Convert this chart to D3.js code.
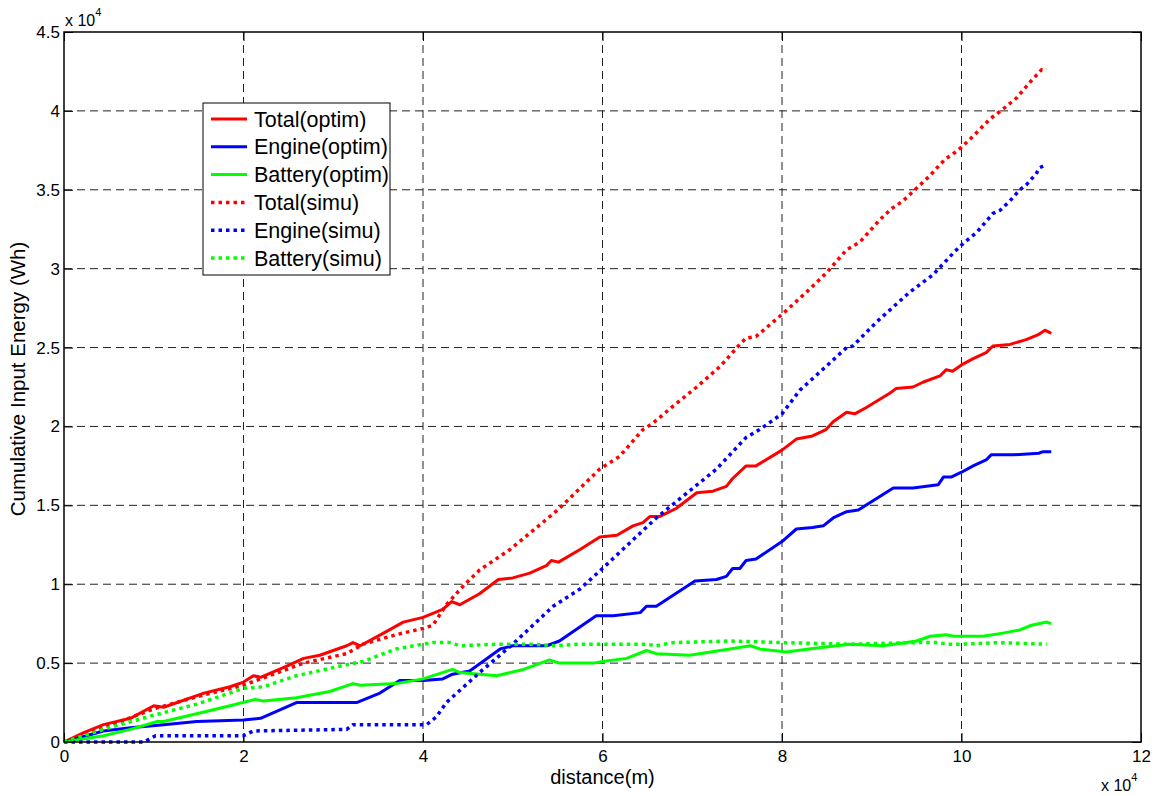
<!DOCTYPE html>
<html>
<head>
<meta charset="utf-8">
<script src="https://cdn.jsdelivr.net/npm/d3@7"></script>
<style>
  body { margin: 0; background: #fff; }
  text { font-family: "Liberation Sans", Arial, Helvetica, sans-serif; fill: #000; }
</style>
</head>
<body>
<div id="chart"></div>
<script>
// values in units of 10^4 (distance in m, energy in Wh), as the axes show them
var xTicks = [0, 2, 4, 6, 8, 10, 12];
var yTicks = [0, 0.5, 1, 1.5, 2, 2.5, 3, 3.5, 4, 4.5];

var totalOptim = [[0,0],[0.22,0.06],[0.44,0.11],[0.74,0.15],[1.0,0.23],[1.11,0.22],[1.56,0.31],[1.85,0.35],[2.0,0.38],[2.11,0.42],[2.19,0.41],[2.52,0.49],[2.67,0.53],[2.85,0.55],[3.15,0.61],[3.22,0.63],[3.30,0.61],[3.56,0.69],[3.78,0.76],[4.0,0.79],[4.22,0.84],[4.32,0.89],[4.41,0.87],[4.63,0.94],[4.84,1.03],[5.0,1.04],[5.19,1.07],[5.38,1.12],[5.43,1.15],[5.51,1.14],[5.75,1.22],[5.97,1.30],[6.16,1.31],[6.34,1.37],[6.45,1.39],[6.53,1.43],[6.64,1.43],[6.82,1.48],[7.05,1.58],[7.23,1.59],[7.38,1.62],[7.45,1.67],[7.60,1.75],[7.71,1.75],[8.0,1.85],[8.16,1.92],[8.34,1.94],[8.49,1.98],[8.57,2.03],[8.72,2.09],[8.81,2.08],[8.94,2.12],[9.20,2.21],[9.27,2.24],[9.46,2.25],[9.57,2.28],[9.76,2.32],[9.83,2.36],[9.90,2.35],[10.0,2.39],[10.13,2.43],[10.28,2.47],[10.35,2.51],[10.54,2.52],[10.72,2.55],[10.85,2.58],[10.93,2.61],[11.0,2.59]];
var engineOptim = [[0,0],[0.44,0.07],[0.74,0.09],[1.11,0.11],[1.48,0.13],[2.0,0.14],[2.19,0.15],[2.59,0.25],[3.26,0.25],[3.52,0.31],[3.74,0.39],[4.0,0.39],[4.22,0.40],[4.33,0.43],[4.52,0.45],[4.86,0.59],[5.0,0.61],[5.38,0.61],[5.52,0.64],[5.93,0.80],[6.12,0.80],[6.42,0.82],[6.49,0.86],[6.60,0.86],[7.03,1.02],[7.27,1.03],[7.38,1.05],[7.45,1.10],[7.53,1.10],[7.60,1.15],[7.71,1.16],[8.0,1.27],[8.16,1.35],[8.34,1.36],[8.46,1.37],[8.57,1.42],[8.72,1.46],[8.85,1.47],[9.24,1.61],[9.46,1.61],[9.74,1.63],[9.80,1.68],[9.89,1.68],[10.0,1.71],[10.13,1.75],[10.28,1.79],[10.33,1.82],[10.58,1.82],[10.86,1.83],[10.91,1.84],[11.0,1.84]];
var batteryOptim = [[0,0],[0.44,0.04],[0.74,0.08],[1.04,0.13],[1.11,0.13],[1.56,0.19],[1.85,0.23],[2.13,0.27],[2.22,0.26],[2.59,0.28],[2.96,0.32],[3.22,0.37],[3.30,0.36],[3.70,0.37],[4.0,0.40],[4.33,0.46],[4.41,0.44],[4.63,0.43],[4.82,0.42],[5.12,0.46],[5.41,0.52],[5.52,0.50],[5.90,0.50],[6.0,0.51],[6.27,0.53],[6.49,0.58],[6.60,0.56],[6.97,0.55],[7.42,0.59],[7.65,0.61],[7.75,0.59],[8.05,0.57],[8.3,0.59],[8.75,0.62],[9.13,0.61],[9.50,0.64],[9.65,0.67],[9.83,0.68],[9.91,0.67],[10.24,0.67],[10.46,0.69],[10.65,0.71],[10.78,0.74],[10.95,0.76],[11.0,0.75]];
var totalSimu = [[0,0],[0.44,0.09],[1.0,0.21],[1.5,0.29],[2.0,0.36],[2.67,0.50],[3.15,0.56],[3.33,0.62],[3.70,0.68],[4.0,0.72],[4.11,0.74],[4.26,0.87],[4.45,0.99],[4.63,1.09],[4.97,1.22],[5.5,1.47],[5.97,1.73],[6.19,1.81],[6.45,1.98],[6.56,2.02],[6.79,2.13],[7.05,2.25],[7.31,2.38],[7.53,2.52],[7.60,2.56],[7.71,2.57],[8.0,2.71],[8.27,2.85],[8.49,2.97],[8.72,3.12],[8.87,3.17],[9.09,3.31],[9.22,3.38],[9.35,3.43],[9.48,3.50],[9.65,3.59],[9.76,3.66],[9.83,3.70],[9.89,3.72],[10.0,3.77],[10.13,3.84],[10.32,3.95],[10.46,4.01],[10.61,4.08],[10.76,4.18],[10.89,4.26],[10.95,4.26]];
var engineSimu = [[0,0],[0.89,0],[1.02,0.04],[2.0,0.04],[2.11,0.07],[3.15,0.08],[3.22,0.11],[4.04,0.11],[4.15,0.16],[4.26,0.25],[4.63,0.44],[5.0,0.62],[5.30,0.78],[5.45,0.86],[5.75,0.97],[6.0,1.10],[6.30,1.26],[6.60,1.42],[7.01,1.61],[7.27,1.73],[7.60,1.93],[7.75,1.98],[8.0,2.08],[8.20,2.23],[8.49,2.38],[8.72,2.50],[8.79,2.51],[9.05,2.66],[9.42,2.85],[9.68,2.96],[9.91,3.10],[10.0,3.15],[10.17,3.23],[10.35,3.35],[10.43,3.37],[10.54,3.43],[10.65,3.50],[10.72,3.53],[10.83,3.60],[10.87,3.64],[10.95,3.66]];
var batterySimu = [[0,0],[0.44,0.08],[1.0,0.17],[1.48,0.24],[2.0,0.34],[2.22,0.35],[2.59,0.42],[3.15,0.49],[3.33,0.51],[3.70,0.59],[4.0,0.62],[4.11,0.63],[4.30,0.63],[4.41,0.61],[4.82,0.62],[5.19,0.62],[5.49,0.61],[5.75,0.62],[6.49,0.62],[6.60,0.61],[6.79,0.63],[7.42,0.64],[8.0,0.63],[8.75,0.62],[9.50,0.63],[9.72,0.63],[9.87,0.62],[10.0,0.62],[10.43,0.63],[10.95,0.62]];

var seriesNames = ['Total(optim)', 'Engine(optim)', 'Battery(optim)', 'Total(simu)', 'Engine(simu)', 'Battery(simu)'];
var seriesData = [totalOptim, engineOptim, batteryOptim, totalSimu, engineSimu, batterySimu];
var seriesColors = ['#ff0000', '#0000ff', '#00ff00', '#ff0000', '#0000ff', '#00ff00'];
var seriesDotted = [false, false, false, true, true, true];

// set the dimensions and margins of the graph
var margin = { top: 32, right: 18, bottom: 54, left: 64 },
  width = 1159 - margin.left - margin.right,
  height = 796 - margin.top - margin.bottom;

var svg = d3
  .select('#chart')
  .append('svg')
  .attr('width', 1159)
  .attr('height', 796);

var g = svg
  .append('g')
  .attr('transform', 'translate(' + margin.left + ',' + margin.top + ')');

var x = d3.scaleLinear().domain([0, 12]).range([0, width]);
var y = d3.scaleLinear().domain([0, 4.5]).range([height, 0]);

// grid lines (dashed)
g.append('g')
  .selectAll('line')
  .data(xTicks.slice(1, -1))
  .enter()
  .append('line')
  .attr('x1', function (d) { return x(d); })
  .attr('x2', function (d) { return x(d); })
  .attr('y1', 0)
  .attr('y2', height)
  .attr('stroke', '#222')
  .attr('stroke-dasharray', '8,5');

g.append('g')
  .selectAll('line')
  .data(yTicks.slice(1, -1))
  .enter()
  .append('line')
  .attr('y1', function (d) { return y(d); })
  .attr('y2', function (d) { return y(d); })
  .attr('x1', 0)
  .attr('x2', width)
  .attr('stroke', '#222')
  .attr('stroke-dasharray', '8,5');

// axes with inward ticks, MATLAB style
var fmt = function (d) { return d3.format('~g')(d); };
g.append('g')
  .attr('transform', 'translate(0,' + height + ')')
  .call(d3.axisBottom(x).tickValues(xTicks).tickSizeInner(-9).tickSizeOuter(0).tickPadding(8).tickFormat(fmt));
g.append('g')
  .call(d3.axisLeft(y).tickValues(yTicks).tickSizeInner(-9).tickSizeOuter(0).tickPadding(5).tickFormat(fmt))
  .selectAll('text').attr('x', -4);
g.append('g')
  .call(d3.axisTop(x).tickValues(xTicks).tickSizeInner(-9).tickSizeOuter(0).tickFormat(''));
g.append('g')
  .attr('transform', 'translate(' + width + ',0)')
  .call(d3.axisRight(y).tickValues(yTicks).tickSizeInner(-9).tickSizeOuter(0).tickFormat(''));

g.selectAll('.domain').remove();
g.selectAll('.tick line').attr('stroke', '#000');
g.selectAll('.tick text').style('font-size', '17px').attr('fill', '#000');

// lines
var line = d3.line()
  .x(function (d) { return x(d[0]); })
  .y(function (d) { return y(d[1]); });

seriesData.forEach(function (data, i) {
  g.append('path')
    .datum(data)
    .attr('d', line)
    .attr('fill', 'none')
    .attr('stroke', seriesColors[i])
    .attr('stroke-width', seriesDotted[i] ? 3.5 : 3)
    .attr('stroke-linejoin', 'round')
    .attr('stroke-dasharray', seriesDotted[i] ? '3.5,4' : null);
});

// box
g.append('rect')
  .attr('width', width)
  .attr('height', height)
  .attr('fill', 'none')
  .attr('stroke', '#000')
  .attr('stroke-width', 1.5);

// exponent labels
var expTop = svg.append('text').attr('x', 65).attr('y', 26).style('font-size', '16px');
expTop.append('tspan').text('x 10');
expTop.append('tspan').attr('dy', -10).style('font-size', '11px').text('4');

var expBottom = svg.append('text').attr('x', 1101).attr('y', 791).style('font-size', '16px');
expBottom.append('tspan').text('x 10');
expBottom.append('tspan').attr('dy', -10).style('font-size', '11px').text('4');

// axis titles
svg.append('text')
  .attr('x', margin.left + width / 2)
  .attr('y', 784)
  .attr('text-anchor', 'middle')
  .style('font-size', '20px')
  .text('distance(m)');

svg.append('text')
  .attr('transform', 'translate(25,' + (margin.top + height / 2 - 8) + ') rotate(-90)')
  .attr('text-anchor', 'middle')
  .style('font-size', '20.5px')
  .text('Cumulative Input Energy (Wh)');

// legend
var legend = svg.append('g').attr('transform', 'translate(203,103)');
legend.append('rect')
  .attr('width', 187)
  .attr('height', 172)
  .attr('fill', '#fff')
  .attr('stroke', '#000')
  .attr('stroke-width', 1);

seriesNames.forEach(function (name, i) {
  var row = legend.append('g').attr('transform', 'translate(0,' + (16 + i * 27.8) + ')');
  row.append('line')
    .attr('x1', 8)
    .attr('x2', 44)
    .attr('stroke', seriesColors[i])
    .attr('stroke-width', seriesDotted[i] ? 3.5 : 3)
    .attr('stroke-dasharray', seriesDotted[i] ? '3.5,4' : null);
  row.append('text')
    .attr('x', 51)
    .attr('y', 7.5)
    .style('font-size', '21.5px')
    .text(name);
});
</script>
</body>
</html>
